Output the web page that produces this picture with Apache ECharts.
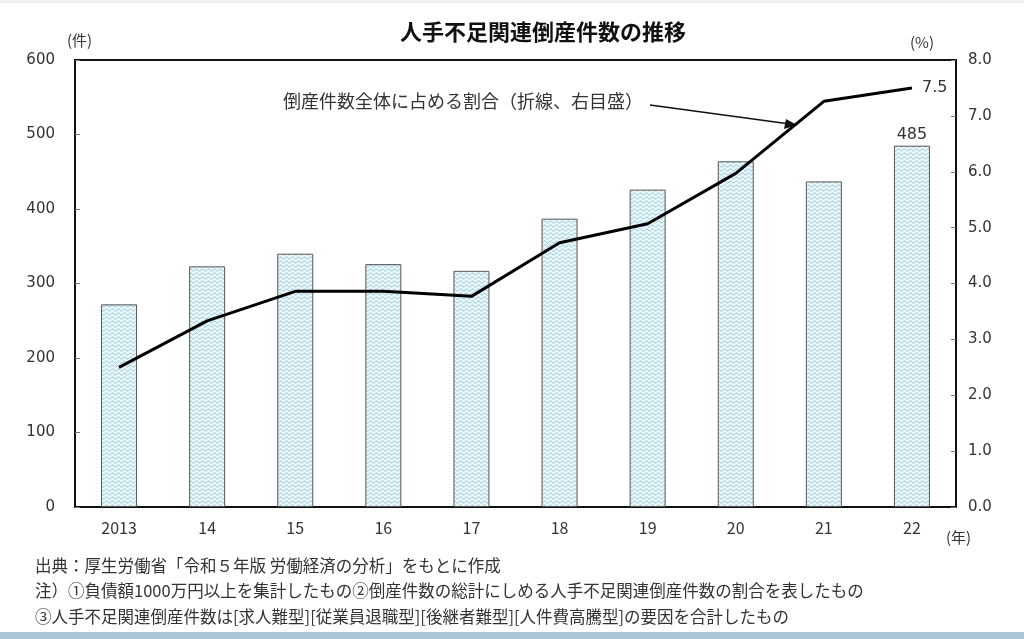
<!DOCTYPE html>
<html><head><meta charset="utf-8">
<script src="https://cdn.jsdelivr.net/npm/echarts@6/dist/echarts.min.js"></script>
<style>html,body{margin:0;padding:0;background:#fff;}#c{width:1024px;height:639px;}</style>
</head><body><div id="c"></div>
<script>
const categories = ['2013','14','15','16','17','18','19','20','21','22'];
const bankruptcies = [272, 323, 340, 326, 317, 387, 426, 464, 437, 485];
const sharePct = [2.5, 3.33, 3.86, 3.86, 3.77, 4.73, 5.07, 5.97, 7.26, 7.5];
const leftTicks = {min: 0, max: 600, interval: 100};
const rightTicks = {min: 0, max: 8, interval: 1};

const pc = document.createElement('canvas');
pc.width = 6; pc.height = 4;
const g = pc.getContext('2d');
g.fillStyle = '#eaf6fa'; g.fillRect(0,0,6,4);
g.strokeStyle = '#86c6d8'; g.lineWidth = 1;
g.beginPath();
for (let x = 0; x <= 6; x += 0.5) {
  const y = 2 + 1.1*Math.sin(x/6*2*Math.PI);
  if (x === 0) g.moveTo(x, y); else g.lineTo(x, y);
}
g.stroke();

const chart = echarts.init(document.getElementById('c'));
const jp = '"Noto Sans CJK JP", sans-serif';
const num = '"DejaVu Sans", sans-serif';
const last = categories.length - 1;
chart.setOption({
  backgroundColor: '#fff',
  animation: false,
  title: {text: '人手不足関連倒産件数の推移', left: 538, top: 16, textAlign: 'center',
    textStyle: {fontFamily: jp, fontSize: 22, fontWeight: 'bold', color: '#111'}},
  grid: {left: 75, right: 68, top: 60, bottom: 132, show: true, borderColor: '#111', borderWidth: 2, backgroundColor: 'transparent'},
  xAxis: {type: 'category', data: categories,
    axisLine: {lineStyle: {color: '#111', width: 2}}, axisTick: {show: false},
    axisLabel: {fontFamily: jp, fontSize: 16, color: '#333', margin: 13}},
  yAxis: [
    {type: 'value', min: leftTicks.min, max: leftTicks.max, interval: leftTicks.interval,
      name: '(件)', nameLocation: 'end', nameGap: 12, nameTextStyle: {fontFamily: jp, fontSize: 15, color: '#333', align: 'left', padding: [0,0,0,-8]},
      axisLine: {show: true, lineStyle: {color: '#111', width: 2}},
      axisTick: {show: true, inside: true, length: 5, lineStyle: {color: '#777'}},
      splitLine: {show: false},
      axisLabel: {fontFamily: num, fontSize: 15, color: '#333', margin: 20}},
    {type: 'value', min: rightTicks.min, max: rightTicks.max, interval: rightTicks.interval, position: 'right',
      name: '(%)', nameLocation: 'end', nameGap: 10, nameTextStyle: {fontFamily: jp, fontSize: 15, color: '#333', align: 'right', padding: [0,22,0,0]},
      axisLine: {show: true, lineStyle: {color: '#111', width: 2}},
      axisTick: {show: true, inside: true, length: 5, lineStyle: {color: '#777'}},
      splitLine: {show: false},
      axisLabel: {fontFamily: num, fontSize: 15, color: '#333', margin: 12, formatter: v => v.toFixed(1)}}
  ],
  series: [
    {type: 'bar', data: bankruptcies, barWidth: 36, yAxisIndex: 0,
      itemStyle: {color: {image: pc, repeat: 'repeat'}, borderColor: '#555', borderWidth: 1},
      label: {show: true, position: 'top', distance: 3, fontFamily: num, fontSize: 16, color: '#333',
        formatter: p => p.dataIndex === last ? String(p.value) : ''}},
    {type: 'line', data: sharePct, yAxisIndex: 1, showSymbol: false, symbol: 'none',
      lineStyle: {color: '#000', width: 3},
      endLabel: {show: true, distance: 10, fontFamily: num, fontSize: 16, color: '#333',
        formatter: p => Number(p.value).toFixed(1)}}
  ],
  graphic: [
    {type: 'text', left: 283, top: 92, style: {text: '倒産件数全体に占める割合（折線、右目盛）', font: '18px ' + jp, fill: '#333'}},
    {type: 'line', shape: {x1: 650, y1: 105, x2: 790, y2: 124}, style: {stroke: '#111', lineWidth: 1.3}},
    {type: 'polygon', shape: {points: [[797,125],[786,119],[784,129]]}, style: {fill: '#111'}},
    {type: 'text', left: 946, top: 530, style: {text: '(年)', font: '15px ' + jp, fill: '#333'}},
    {type: 'text', left: 35, top: 557, style: {text: '出典：厚生労働省「令和５年版 労働経済の分析」をもとに作成', font: '16.5px ' + jp, fill: '#333'}},
    {type: 'text', left: 35, top: 582, style: {text: '注）①負債額1000万円以上を集計したもの②倒産件数の総計にしめる人手不足関連倒産件数の割合を表したもの', font: '16.5px ' + jp, fill: '#333'}},
    {type: 'text', left: 35, top: 608, style: {text: '③人手不足関連倒産件数は[求人難型][従業員退職型][後継者難型][人件費高騰型]の要因を合計したもの', font: '16.5px ' + jp, fill: '#333'}},
    {type: 'rect', shape: {x: 0, y: 632, width: 1024, height: 7}, style: {fill: '#a9c5d6'}},
    {type: 'rect', shape: {x: 0, y: 0, width: 1024, height: 3}, style: {fill: '#eeeeee'}}
  ]
});
</script></body></html>
